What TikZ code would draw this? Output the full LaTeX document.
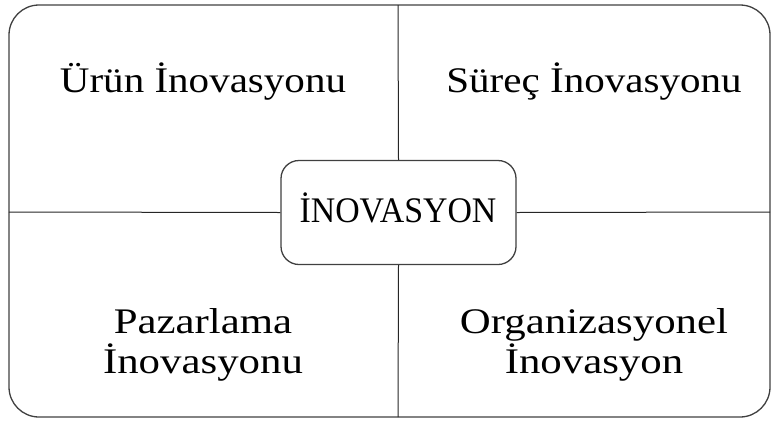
\documentclass[tikz,border=0pt]{standalone}
\usepackage{fontspec}
\usepackage{graphicx}
\setmainfont{Liberation Serif}
% horizontally stretched label text
\newcommand\stretchtext[2]{\scalebox{#1}[1]{#2}}
\begin{document}
\begin{tikzpicture}[x=1pt,y=-1pt,
  frame/.style={draw=black!75,line width=1.3pt,rounded corners=30pt},
  divider/.style={draw=black!85,line width=1pt},
  hub/.style={draw=black!75,line width=1.3pt,rounded corners=18pt,fill=white,
    minimum width=235pt,minimum height=104pt,inner sep=0pt},
  label/.style={font=\fontsize{36}{36}\selectfont,inner sep=0pt,anchor=base}]
\useasboundingbox (0,0) rectangle (779,421);
\draw[frame] (9,5) rectangle (770,417);
\coordinate (top) at (398,5);
\coordinate (bottom) at (398,417);
\coordinate (left) at (9,212);
\coordinate (right) at (770,212);
\node[hub] (core) at (398.5,212.5) {};
\draw[divider] (top) -- (core.north);
\draw[divider] (core.south) -- (bottom);
\draw[divider] (left) -- (core.west);
\draw[divider] (core.east) -- (right);
\node[label] (hubtext) at (398,222) {\stretchtext{0.94}{İNOVASYON}};
\node[label] (urun) at (203,92) {\stretchtext{1.14}{Ürün İnovasyonu}};
\node[label] (surec) at (594,92) {\stretchtext{1.14}{Süreç İnovasyonu}};
\node[label] (pazarA) at (203,333) {\stretchtext{1.19}{Pazarlama}};
\node[label] (pazarB) at (203,373) {\stretchtext{1.19}{İnovasyonu}};
\node[label] (organA) at (594,333) {\stretchtext{1.19}{Organizasyonel}};
\node[label] (organB) at (594,373) {\stretchtext{1.19}{İnovasyon}};
\end{tikzpicture}
\end{document}
